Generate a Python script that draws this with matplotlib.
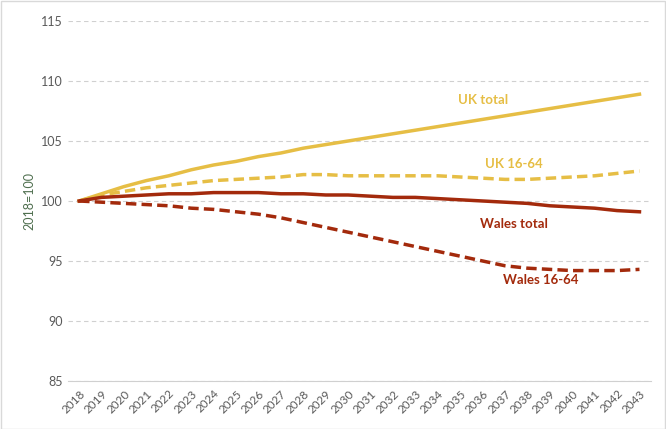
import matplotlib.pyplot as plt

years = list(range(2018, 2044))

uk_total = [100.0, 100.6, 101.2, 101.7, 102.1, 102.6, 103.0, 103.3, 103.7, 104.0, 104.4, 104.7, 105.0,
            105.3, 105.6, 105.9, 106.2, 106.5, 106.8, 107.1, 107.4, 107.7, 108.0, 108.3, 108.6, 108.9]
uk_1664 = [100.0, 100.5, 100.8, 101.1, 101.3, 101.5, 101.7, 101.8, 101.9, 102.0, 102.2, 102.2, 102.1,
           102.1, 102.1, 102.1, 102.1, 102.0, 101.9, 101.8, 101.8, 101.9, 102.0, 102.1, 102.3, 102.5]
wales_total = [100.0, 100.3, 100.4, 100.5, 100.6, 100.6, 100.7, 100.7, 100.7, 100.6, 100.6, 100.5, 100.5,
               100.4, 100.3, 100.3, 100.2, 100.1, 100.0, 99.9, 99.8, 99.6, 99.5, 99.4, 99.2, 99.1]
wales_1664 = [100.0, 99.9, 99.8, 99.7, 99.6, 99.4, 99.3, 99.1, 98.9, 98.6, 98.2, 97.8, 97.4,
              97.0, 96.6, 96.2, 95.8, 95.4, 95.0, 94.6, 94.4, 94.3, 94.2, 94.2, 94.2, 94.3]

gold = '#E6BE45'
red = '#A32A0C'

fig = plt.figure(figsize=(6.66, 4.29), dpi=100)
ax = fig.add_axes([0.102, 0.112, 0.875, 0.839])

ax.plot(years, uk_total, color=gold, lw=2.5)
ax.plot(years, uk_1664, color=gold, lw=2.5, ls=(0, (3, 1.5)))
ax.plot(years, wales_total, color=red, lw=2.5)
ax.plot(years, wales_1664, color=red, lw=2.5, ls=(0, (3, 1.5)))

ax.text(2036.0, 108.4, 'UK total', color=gold, fontsize=9.5, fontweight='bold', ha='center', va='center', family='Lato')
ax.text(2037.4, 103.1, 'UK 16-64', color=gold, fontsize=9.5, fontweight='bold', ha='center', va='center', family='Lato')
ax.text(2037.4, 98.1, 'Wales total', color=red, fontsize=9.5, fontweight='bold', ha='center', va='center', family='Lato')
ax.text(2038.6, 93.4, 'Wales 16-64', color=red, fontsize=9.5, fontweight='bold', ha='center', va='center', family='Lato')

ax.set_xlim(2017.5, 2043.5)
ax.set_ylim(85, 115)
ax.set_yticks(range(85, 116, 5))
ax.set_xticks(years)
ax.set_xticklabels([str(y) for y in years], rotation=45, ha='right', rotation_mode='anchor')
ax.tick_params(colors='#595959', labelsize=9, length=0)
ax.tick_params(axis='x', labelsize=8.5, pad=5)
for lbl in ax.get_xticklabels() + ax.get_yticklabels():
    lbl.set_family('Lato')
ax.set_ylabel('2018=100', color='#4F6F4F', fontsize=9, family='Lato')
ax.grid(axis='y', color='#D0D0D0', ls=(0, (4, 3)), lw=0.8)
ax.set_axisbelow(True)
for s in ['top', 'right', 'left']:
    ax.spines[s].set_visible(False)
ax.spines['bottom'].set_color('#D0D0D0')

fig.patches.append(plt.Rectangle((0.001, 0.001), 0.997, 0.997, transform=fig.transFigure,
                                 fill=False, edgecolor='#D9D9D9', lw=1))

fig.savefig('out.png', dpi=100)
